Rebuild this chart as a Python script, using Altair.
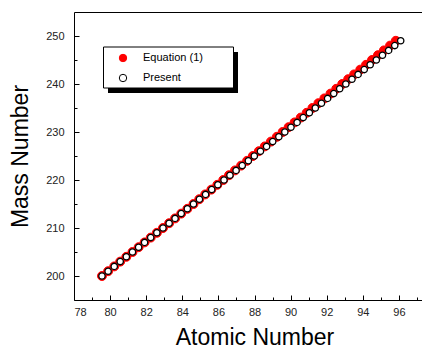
import altair as alt
import pandas as pd

# ---- data ----
mass_number = list(range(200, 250))

z_present = [79.55, 79.89, 80.23, 80.56, 80.90, 81.24, 81.58, 81.91, 82.25, 82.59,
             82.93, 83.27, 83.60, 83.94, 84.28, 84.62, 84.95, 85.29, 85.63, 85.97,
             86.31, 86.64, 86.98, 87.32, 87.66, 87.99, 88.33, 88.67, 89.01, 89.35,
             89.68, 90.02, 90.36, 90.70, 91.04, 91.37, 91.71, 92.05, 92.39, 92.72,
             93.06, 93.40, 93.74, 94.08, 94.41, 94.75, 95.09, 95.43, 95.77, 96.10]

z_equation = [79.55, 79.89, 80.23, 80.56, 80.90, 81.24, 81.58, 81.91, 82.25, 82.59,
              82.93, 83.27, 83.60, 83.94, 84.28, 84.62, 84.94, 85.27, 85.61, 85.94,
              86.27, 86.59, 86.92, 87.26, 87.59, 87.91, 88.24, 88.57, 88.91, 89.24,
              89.56, 89.89, 90.22, 90.56, 90.89, 91.21, 91.54, 91.87, 92.21, 92.53,
              92.86, 93.19, 93.52, 93.86, 94.18, 94.51, 94.84, 95.17, 95.51, 95.83]

series_names = ["Equation (1)", "Present"]
x_ticks = list(range(78, 98))
y_ticks = list(range(200, 251, 5))

df_eq = pd.DataFrame({"A": mass_number, "Z": z_equation, "series": series_names[0]})
df_pr = pd.DataFrame({"A": mass_number, "Z": z_present, "series": series_names[1]})
one_row = pd.DataFrame({"k": [0]})

FONT = "Liberation Sans"

fill_scale = alt.Scale(domain=series_names, range=["#ff0000", "#ffffff"])
stroke_scale = alt.Scale(domain=series_names, range=["#ff0000", "#000000"])

legend = alt.Legend(
    title=None, orient="none", legendX=43.5, legendY=40.5, padding=0,
    symbolType="circle", symbolSize=55, symbolStrokeWidth=1,
    labelFont=FONT, labelFontSize=11, labelColor="#000000",
    labelOffset=14.5, rowPadding=7,
)

common_axis = dict(
    grid=False, domain=False, ticks=True, tickSize=5, offset=-5,
    tickColor="#000000", tickWidth=1,
    labelFont=FONT, labelFontSize=11, labelColor="#222222",
    titleFont=FONT, titleFontWeight="normal", titleColor="#000000",
)

x_enc = alt.X(
    "Z:Q",
    scale=alt.Scale(domain=[78, 98], nice=False, zero=False),
    axis=alt.Axis(
        title="Atomic Number", values=x_ticks,
        labelExpr="datum.value % 2 === 0 ? datum.label : ''",
        tickDash={"condition": {"test": "datum.value % 2 !== 0", "value": [0, 2, 3, 0]},
                  "value": [5, 0]},
        labelPadding=6, titlePadding=9, titleFontSize=23,
        **common_axis,
    ),
)
y_enc = alt.Y(
    "A:Q",
    scale=alt.Scale(domain=[195, 255], nice=False, zero=False),
    axis=alt.Axis(
        title="Mass Number", values=y_ticks,
        labelExpr="datum.value % 10 === 0 ? datum.label : ''",
        tickDash={"condition": {"test": "datum.value % 10 !== 0", "value": [0, 2, 3, 0]},
                  "value": [5, 0]},
        labelPadding=10, titlePadding=13, titleFontSize=23,
        **common_axis,
    ),
)

shadow = alt.Chart(one_row).mark_rect(color="#000000").encode(
    x=alt.value(34), x2=alt.value(164), y=alt.value(40), y2=alt.value(81)
)
box = alt.Chart(one_row).mark_rect(fill="#ffffff", stroke="#000000", strokeWidth=1).encode(
    x=alt.value(29.5), x2=alt.value(159.5), y=alt.value(35), y2=alt.value(76)
)

eq_layer = alt.Chart(df_eq).mark_point(
    shape="circle", size=80, strokeWidth=1, opacity=1, fillOpacity=1
).encode(
    x=x_enc, y=y_enc,
    fill=alt.Fill("series:N", scale=fill_scale, legend=legend),
    stroke=alt.Stroke("series:N", scale=stroke_scale, legend=legend),
)
pr_layer = alt.Chart(df_pr).mark_point(
    shape="circle", size=40, strokeWidth=1.3, opacity=1, fillOpacity=1
).encode(
    x=x_enc, y=y_enc,
    fill=alt.Fill("series:N", scale=fill_scale, legend=legend),
    stroke=alt.Stroke("series:N", scale=stroke_scale, legend=legend),
)

chart = alt.layer(shadow, box, eq_layer, pr_layer).properties(
    width=361, height=288,
    background="#ffffff",
    autosize=alt.AutoSizeParams(type="none"),
    padding={"left": 66, "top": 4, "right": -13, "bottom": 50},
).configure_view(
    stroke="#000000", strokeWidth=1
)

chart.save("out.html", embed_options={"renderer": "svg", "actions": False})
